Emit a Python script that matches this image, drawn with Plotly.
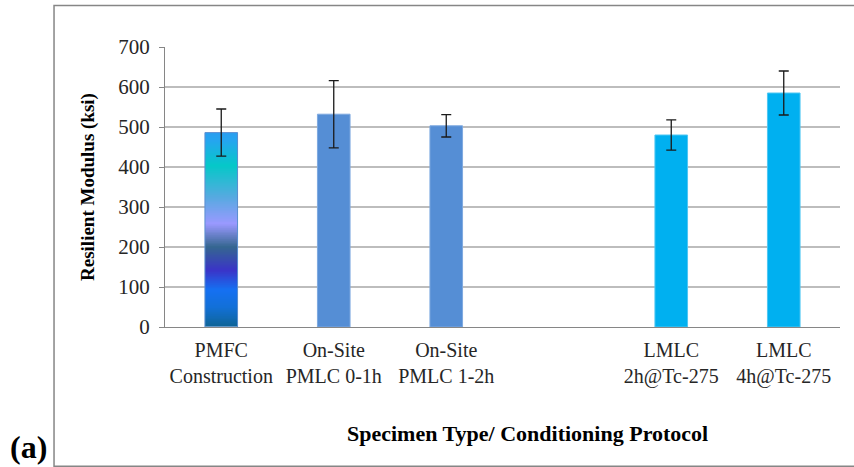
import numpy as np
import plotly.graph_objects as go

# Specimen groups (slot 3 is left empty as a visual separator)
categories = ["PMFC<br>Construction", "On-Site<br>PMLC 0-1h", "On-Site<br>PMLC 1-2h",
              "LMLC<br>2h@Tc-275", "LMLC<br>4h@Tc-275"]
positions = [0, 1, 2, 4, 5]
modulus_ksi = [486, 532, 503, 480, 585]
error_ksi = [59, 84, 28, 38, 55]
fill_colors = ["rgba(0,0,0,0)", "#558ED5", "#558ED5", "#00B0F0", "#00B0F0"]
line_colors = ["#5B8FD0", "#7EA9E0", "#7EA9E0", "#4FC6F2", "#4FC6F2"]
y_ticks = [0, 100, 200, 300, 400, 500, 600, 700]

BAR_WIDTH = 0.29
SERIF = "Liberation Serif, Times New Roman, serif"

# Multi-colour gradient fill for the field-mix bar (bottom -> top)
gradient_stops = [
    [0.00, "#0E6496"], [0.10, "#1270D8"], [0.19, "#1570F2"], [0.29, "#3A34C8"],
    [0.41, "#356690"], [0.53, "#9A99FF"], [0.67, "#55AAE0"], [0.83, "#05C8C8"],
    [0.96, "#25A5F0"], [1.00, "#2A9EF0"],
]

fig = go.Figure()

n_rows = 300
top = modulus_ksi[0]
y_edges = np.linspace(0, top, n_rows + 1)
z = ((y_edges[:-1] + y_edges[1:]) / 2 / top).reshape(-1, 1)
fig.add_trace(go.Heatmap(
    x=[positions[0] - BAR_WIDTH / 2, positions[0] + BAR_WIDTH / 2],
    y=y_edges,
    z=z,
    zmin=0, zmax=1,
    colorscale=gradient_stops,
    showscale=False,
    hoverinfo="skip",
))

fig.add_trace(go.Bar(
    x=positions,
    y=modulus_ksi,
    width=[BAR_WIDTH] * len(positions),
    marker=dict(color=fill_colors, line=dict(color=line_colors, width=1)),
    error_y=dict(type="data", array=error_ksi, visible=True,
                 color="#1A1A1A", thickness=1.3, width=5),
    showlegend=False,
))

fig.update_layout(
    width=854, height=467,
    margin=dict(l=165, r=14, t=47, b=140),
    plot_bgcolor="white", paper_bgcolor="white",
    font=dict(family=SERIF, size=20, color="#262626"),
    xaxis=dict(
        range=[-0.5, 5.5],
        tickmode="array", tickvals=positions, ticktext=categories,
        showgrid=False, zeroline=False,
        showline=True, linecolor="#868686", linewidth=1,
        ticks="", ticklabelstandoff=5,
        tickfont=dict(family=SERIF, size=20, color="#262626"),
    ),
    yaxis=dict(
        range=[0, 700],
        tickmode="array", tickvals=y_ticks,
        showgrid=True, gridcolor="#BDBDBD", gridwidth=1.5,
        zeroline=False,
        showline=True, linecolor="#868686", linewidth=1,
        ticks="outside", ticklen=5, tickcolor="#868686",
        ticklabelstandoff=5,
        tickfont=dict(family=SERIF, size=21, color="#262626"),
        title=dict(text="<b>Resilient Modulus (ksi)</b>",
                   font=dict(family=SERIF, size=19, color="#000000"),
                   standoff=18),
    ),
)

# Horizontal axis title
fig.add_annotation(
    text="<b>Specimen Type/ Conditioning Protocol</b>",
    xref="paper", yref="paper", x=0.537, y=-0.38,
    xanchor="center", yanchor="middle", showarrow=False,
    font=dict(family=SERIF, size=22, color="#000000"),
)

# Panel label
fig.add_annotation(
    text="<b>(a)</b>",
    xref="paper", yref="paper", x=-0.172, y=-0.5,
    xanchor="right", yanchor="bottom", showarrow=False,
    font=dict(family=SERIF, size=32, color="#000000"),
)

# Chart frame
fig.add_shape(
    type="rect", xref="paper", yref="paper",
    x0=-0.1644, x1=1.03, y0=-0.497, y1=1.1485,
    line=dict(color="#868686", width=1.5), fillcolor="rgba(0,0,0,0)",
    layer="below",
)

fig.write_html("out.html")
